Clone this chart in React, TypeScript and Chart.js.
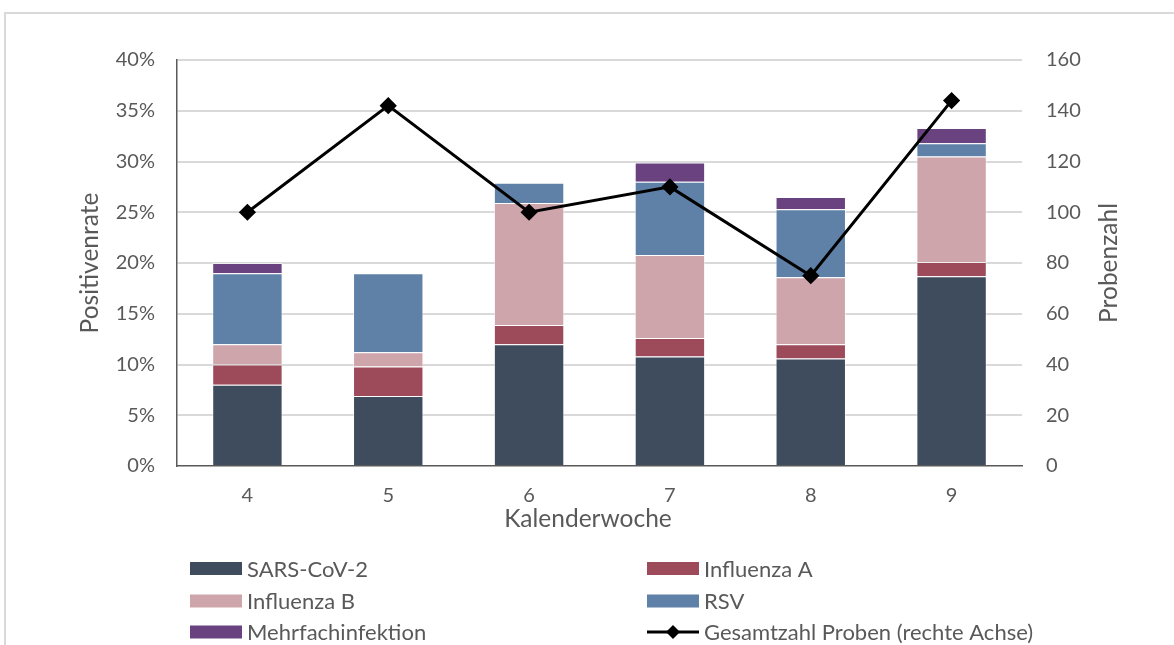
import React, { useEffect, useRef } from "react";
import { Chart, registerables } from "chart.js";

Chart.register(...registerables);

const categories = ["4", "5", "6", "7", "8", "9"];
const sarsCov2 = [8.0, 6.9, 12.0, 10.8, 10.6, 18.7];
const influenzaA = [2.0, 2.9, 1.9, 1.8, 1.4, 1.4];
const influenzaB = [2.0, 1.4, 12.0, 8.2, 6.6, 10.4];
const rsv = [7.0, 7.8, 2.0, 7.2, 6.7, 1.3];
const mehrfach = [1.0, 0, 0, 1.9, 1.2, 1.5];
const gesamtProben = [100, 142, 100, 110, 75, 144];

const leftTicks = [0, 5, 10, 15, 20, 25, 30, 35, 40];
const rightTicks = [0, 20, 40, 60, 80, 100, 120, 140, 160];

const FONT = "Lato";
const TEXT = "#595959";

const COLORS = {
  sars: "#3f4c5e",
  infA: "#9d4a5b",
  infB: "#cfa5ac",
  rsv: "#5f80a7",
  mehr: "#6a4280",
};

const customPlugin = {
  id: "customText",
  afterDraw(chart: any) {
    const { ctx, chartArea } = chart;
    ctx.save();
    ctx.fillStyle = TEXT;
    ctx.font = `24.5px ${FONT}`;
    ctx.textAlign = "center";
    ctx.textBaseline = "middle";
    // x title
    ctx.fillText("Kalenderwoche", 588, 519);
    // left title
    const cy = (chartArea.top + chartArea.bottom) / 2;
    ctx.save();
    ctx.translate(90, cy);
    ctx.rotate(-Math.PI / 2);
    ctx.fillText("Positivenrate", 0, 0);
    ctx.restore();
    // right title
    ctx.save();
    ctx.translate(1109, cy);
    ctx.rotate(-Math.PI / 2);
    ctx.fillText("Probenzahl", 0, 0);
    ctx.restore();

    // legend
    const ds = chart.data.datasets;
    const items = [
      { i: 0, x: 190, y: 568.5 },
      { i: 1, x: 647, y: 568.5 },
      { i: 2, x: 190, y: 601 },
      { i: 3, x: 647, y: 601 },
      { i: 4, x: 190, y: 632 },
      { i: 5, x: 647, y: 632 },
    ];
    ctx.font = `22px ${FONT}`;
    ctx.textAlign = "left";
    ctx.textBaseline = "middle";
    for (const it of items) {
      const d = ds[it.i];
      if (d.type === "line") {
        ctx.strokeStyle = "#000";
        ctx.lineWidth = 3;
        ctx.beginPath();
        ctx.moveTo(it.x, it.y);
        ctx.lineTo(it.x + 52, it.y);
        ctx.stroke();
        ctx.fillStyle = "#000";
        ctx.beginPath();
        const cx = it.x + 26;
        ctx.moveTo(cx, it.y - 7);
        ctx.lineTo(cx + 7, it.y);
        ctx.lineTo(cx, it.y + 7);
        ctx.lineTo(cx - 7, it.y);
        ctx.closePath();
        ctx.fill();
      } else {
        ctx.fillStyle = d.backgroundColor;
        ctx.fillRect(it.x, it.y - 6.5, 52, 13);
      }
      ctx.fillStyle = TEXT;
      ctx.fillText(d.label, it.x + 57, it.y + 1);
    }
    ctx.restore();
  },
};

export default function App() {
  const ref = useRef<HTMLCanvasElement | null>(null);

  useEffect(() => {
    if (!ref.current) return;
    const barCommon = {
      type: "bar" as const,
      yAxisID: "y",
      stack: "s",
      barPercentage: 0.5,
      categoryPercentage: 1,
      borderColor: "rgba(255,255,255,0.55)",
      borderWidth: 1,
      order: 2,
    };
    const chart = new Chart(ref.current, {
      type: "bar",
      data: {
        labels: categories,
        datasets: [
          { ...barCommon, label: "SARS-CoV-2", data: sarsCov2, backgroundColor: COLORS.sars },
          { ...barCommon, label: "Influenza A", data: influenzaA, backgroundColor: COLORS.infA },
          { ...barCommon, label: "Influenza B", data: influenzaB, backgroundColor: COLORS.infB },
          { ...barCommon, label: "RSV", data: rsv, backgroundColor: COLORS.rsv },
          { ...barCommon, label: "Mehrfachinfektion", data: mehrfach, backgroundColor: COLORS.mehr },
          {
            type: "line",
            label: "Gesamtzahl Proben (rechte Achse)",
            data: gesamtProben,
            yAxisID: "y1",
            borderColor: "#000",
            backgroundColor: "#000",
            borderWidth: 3,
            pointStyle: "rectRot",
            pointRadius: 6.5,
            pointBackgroundColor: "#000",
            pointBorderColor: "#000",
            tension: 0,
            order: 0,
          } as any,
        ],
      },
      options: {
        animation: false,
        responsive: false,
        maintainAspectRatio: false,
        layout: { padding: { left: 0, right: 0, top: 60, bottom: 105 } },
        plugins: {
          legend: { display: false },
          tooltip: { enabled: false },
          title: { display: false },
        },
        scales: {
          x: {
            stacked: true,
            offset: true,
            grid: { display: false, drawTicks: false },
            border: { display: true, color: "#595959", width: 1.5 },
            ticks: { color: TEXT, font: { family: FONT, size: 20 }, padding: 18 },
            afterFit(scale: any) {
              scale.height = 74;
            },
          },
          y: {
            type: "linear",
            position: "left",
            stacked: true,
            min: 0,
            max: 40,
            afterBuildTicks(scale: any) {
              scale.ticks = leftTicks.map((v) => ({ value: v }));
            },
            ticks: {
              color: TEXT,
              font: { family: FONT, size: 20 },
              padding: 22,
              callback: (v: any) => `${v}%`,
            },
            grid: {
              drawTicks: false,
              lineWidth: 2,
              color: (c: any) => (c.tick && c.tick.value === 0 ? "rgba(0,0,0,0)" : "#d9d9d9"),
            },
            border: { display: true, color: "#595959", width: 1.5 },
            afterFit(scale: any) {
              scale.width = 177;
            },
          },
          y1: {
            type: "linear",
            position: "right",
            min: 0,
            max: 160,
            afterBuildTicks(scale: any) {
              scale.ticks = rightTicks.map((v) => ({ value: v }));
            },
            ticks: { color: TEXT, font: { family: FONT, size: 20 }, padding: 24 },
            grid: { display: false, drawTicks: false },
            border: { display: false },
            afterFit(scale: any) {
              scale.width = 152;
            },
          },
        },
      },
      plugins: [customPlugin],
    });
    return () => chart.destroy();
  }, []);

  return (
    <div
      style={{
        position: "fixed",
        left: 0,
        top: 0,
        width: 1174,
        height: 645,
        overflow: "hidden",
        background: "#fff",
      }}
    >
      <div
        style={{
          position: "absolute",
          left: 4,
          top: 12,
          width: 1300,
          height: 800,
          borderLeft: "2px solid #d9d9d9",
          borderTop: "2px solid #d9d9d9",
        }}
      />
      <canvas
        ref={ref}
        width={1174}
        height={645}
        style={{ position: "absolute", left: 0, top: 0, width: 1174, height: 645 }}
      />
    </div>
  );
}
